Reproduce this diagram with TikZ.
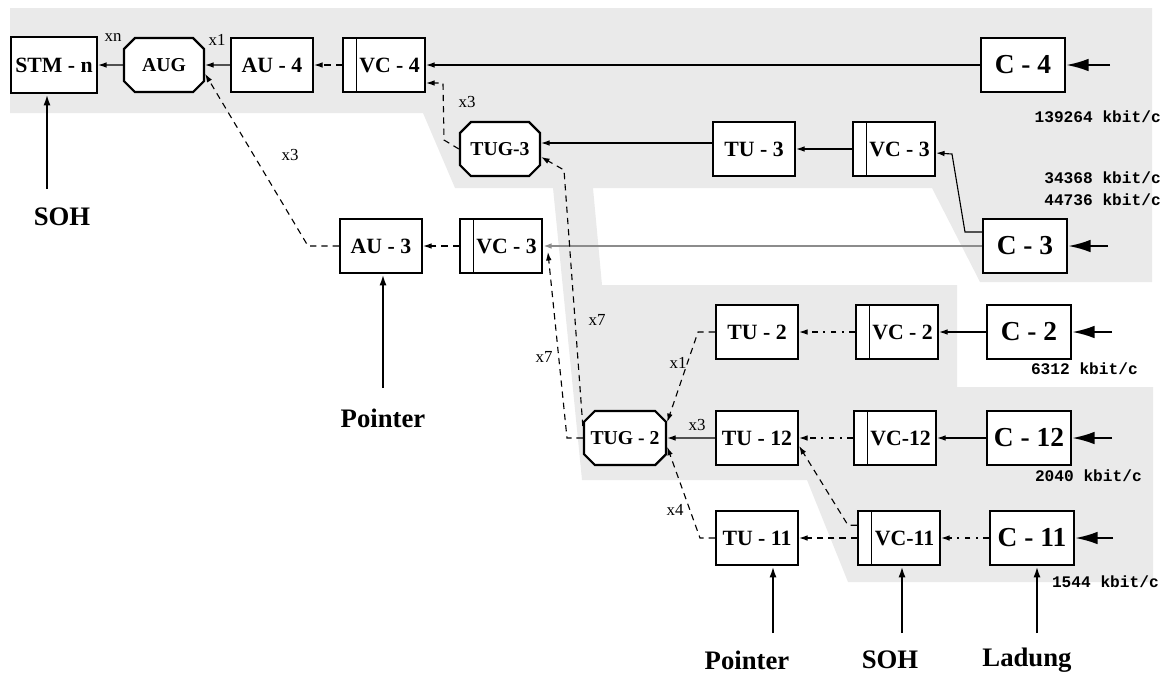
\documentclass[tikz,border=0pt]{standalone}
\usepackage{fontspec}
\setmainfont{Liberation Serif}
\newfontfamily\ratefont{Liberation Mono}
\usepackage{xcolor}
\usetikzlibrary{arrows.meta, positioning, shapes.misc}

\definecolor{bandgrey}{HTML}{EAEAEA}
\definecolor{linegrey}{HTML}{8C8C8C}

\tikzset{
  blk/.style={draw, line width=1.6pt, fill=white, minimum width=2.05cm,
    minimum height=1.35cm, inner sep=0pt, font=\fontsize{15.5}{18}\selectfont\bfseries},
  cbox/.style={blk, minimum width=2.1cm, font=\fontsize{19.5}{22}\selectfont\bfseries},
  vcbox/.style={blk, execute at begin node=\hspace*{0.28cm},
    path picture={\draw[line width=0.8pt]
      ([xshift=0.33cm]path picture bounding box.north west) --
      ([xshift=0.33cm]path picture bounding box.south west);}},
  tug/.style={blk, chamfered rectangle, chamfered rectangle xsep=0.3cm,
    minimum width=2cm, font=\fontsize{14}{17}\selectfont\bfseries},
  dsh/.style={dash pattern=on 4.5pt off 3.5pt},
  ddot/.style={dash pattern=on 4pt off 4pt on 1.2pt off 4pt},
  feed/.style={line width=1.6pt, -{Latex[length=16pt,width=9pt]}},
  riser/.style={line width=1.6pt, -{Latex[length=8pt,width=5pt]}},
  mult/.style={font=\fontsize{12}{14}\selectfont},
  rate/.style={anchor=east, font=\ratefont\fontsize{11.5}{13}\selectfont\bfseries},
  big/.style={font=\fontsize{19}{22}\selectfont\bfseries}
}

\begin{document}
\begin{tikzpicture}[node distance=2cm, on grid, line width=0.8pt,
    >={Latex[length=6pt,width=4pt]}]
  \useasboundingbox (0,0) rectangle (29.175,-16.875);

  % grey band
  \fill[bandgrey] (0.25,-0.2) -- (28.8,-0.2) -- (28.8,-7.05) -- (24.5,-7.05)
    -- (23.3,-4.7) -- (14.825,-4.7) -- (15.05,-7.125) -- (23.925,-7.125)
    -- (23.925,-9.675) -- (28.825,-9.675) -- (28.825,-14.55) -- (21.2,-14.55)
    -- (20.175,-12.0) -- (14.55,-12.0) -- (13.825,-4.7) -- (11.375,-4.7)
    -- (10.575,-2.825) -- (0.25,-2.825) -- cycle;

  % top row
  \node[blk, minimum width=2.15cm, minimum height=1.4cm] (stm) at (1.35,-1.625) {STM - n};
  \node[tug] (aug) [right=2.75of stm] {AUG};
  \node[blk] (au4) [right=2.7of aug] {AU - 4};
  \node[vcbox] (vc4) [right=2.8of au4] {VC - 4};
  \node[cbox] (c4) at (25.575,-1.625) {C - 4};

  \node[tug] (tug3) at (12.5,-3.725) {TUG-3};
  \node[blk] (tu3) [right=6.35of tug3] {TU - 3};
  \node[vcbox] (vc3a) [right=3.5of tu3] {VC - 3};

  \node[blk] (au3) at (9.525,-6.15) {AU - 3};
  \node[vcbox] (vc3b) [right=3of au3] {VC - 3};
  \node[cbox] (c3) at (25.625,-6.15) {C - 3};

  % lower block
  \node[tug] (tug2) at (15.625,-10.95) {TUG - 2};
  \node[blk] (tu12) [right=3.3of tug2] {TU - 12};
  \node[vcbox] (vc12) [right=3.45of tu12] {VC-12};
  \node[cbox] (c12) [right=3.35of vc12] {C - 12};
  \node[blk] (tu2) [above=2.65of tu12] {TU - 2};
  \node[vcbox] (vc2) [right=3.5of tu2] {VC - 2};
  \node[cbox] (c2) [right=3.3of vc2] {C - 2};
  \node[blk] (tu11) [below=2.5of tu12] {TU - 11};
  \node[vcbox] (vc11) [right=3.55of tu11] {VC-11};
  \node[cbox] (c11) [right=3.325of vc11] {C - 11};

  % rates
  \node[rate] (r4) at (29.15,-2.925) {139264 kbit/c};
  \node[rate] (r3a) at (29.15,-4.45) {34368 kbit/c};
  \node[rate] (r3b) at (29.15,-5.0) {44736 kbit/c};
  \node[rate] (r2) at (28.575,-9.225) {6312 kbit/c};
  \node[rate] (r12) at (28.675,-11.9) {2040 kbit/c};
  \node[rate] (r11) at (29.1,-14.55) {1544 kbit/c};

  % multiplex counts
  \node[mult] (mn) at (2.825,-0.95) {xn};
  \node[mult] (m1) at (5.425,-1.0) {x1};
  \node[mult] (m3a) at (11.675,-2.55) {x3};
  \node[mult] (m3b) at (7.25,-3.875) {x3};
  \node[mult] (m7a) at (14.925,-8.0) {x7};
  \node[mult] (m7b) at (13.6,-8.925) {x7};
  \node[mult] (m1b) at (16.95,-9.075) {x1};
  \node[mult] (m3c) at (17.425,-10.625) {x3};
  \node[mult] (m4) at (16.875,-12.75) {x4};

  % bottom labels
  \node[big] (soh1) at (1.55,-5.425) {SOH};
  \node[big] (ptr1) at (9.575,-10.45) {Pointer};
  \node[big] (ptr2) at (18.675,-16.5) {Pointer};
  \node[big] (soh2) at (22.25,-16.5) {SOH};
  \node[big] (load) at (25.675,-16.5) {Ladung};

  \coordinate (s1) at (1.175,-4.725);
  \coordinate (p1) at (9.575,-9.7);
  \coordinate (p2) at (19.325,-15.825);
  \coordinate (s2) at (22.55,-15.825);
  \coordinate (l1) at (25.925,-15.825);

  \path[->]
    (aug) edge (stm)
    (au4) edge (aug)
    (vc4) edge[dsh] (au4)
    (c4) edge (vc4)
    (vc3a) edge (tu3)
    ([yshift=0.15cm]tu3.west) edge ([yshift=0.15cm]tug3.east)
    (vc3b) edge[dsh] (au3)
    (c3) edge[linegrey, line width=1.5pt] (vc3b)
    (c2) edge (vc2)
    (vc2) edge[ddot] (tu2)
    (c12) edge (vc12)
    (vc12) edge[ddot] (tu12)
    (tu12) edge (tug2)
    (c11) edge[ddot] (vc11)
    (vc11) edge[dsh] (tu11);

  \draw[->, dsh] (tug3.west) -- (11.1,-3.5) -- (11.075,-2.075) -- ([yshift=-0.45cm]vc4.east);
  \draw[->, dsh] (au3.west) -- (7.7,-6.15) -- ([yshift=-0.22cm]aug.east);
  \draw[->] ([yshift=0.35cm]c3.west) -- (24.125,-5.8) -- (23.8,-3.85) -- ([yshift=-0.1cm]vc3a.east);
  \draw[->, dsh] (tug2.west) -- (14.175,-10.95) -- ([xshift=0.12cm,yshift=-0.15cm]vc3b.east);
  \draw[->, dsh] ([yshift=0.3cm]tug2.west) -- (14.1,-4.25) -- ([yshift=-0.2cm]tug3.east);
  \draw[->, dsh] (tu2.west) -- (17.45,-8.3) -- ([yshift=0.4cm]tug2.east);
  \draw[->, dsh] (tu11.west) -- (17.5,-13.45) -- ([yshift=-0.22cm]tug2.east);
  \draw[->, dsh] ([yshift=0.32cm]vc11.west) -- (21.2,-13.13) -- ([yshift=-0.2cm]tu12.east);

  \path[feed]
    ([xshift=1.1cm]c4.east) edge (c4)
    ([xshift=1.0cm]c3.east) edge (c3)
    ([xshift=1.0cm]c2.east) edge (c2)
    ([xshift=1.0cm]c12.east) edge (c12)
    ([xshift=0.95cm]c11.east) edge (c11);

  \path[riser]
    (s1) edge (s1 |- stm.south)
    (p1) edge (p1 |- au3.south)
    (p2) edge (p2 |- tu11.south)
    (s2) edge (s2 |- vc11.south)
    (l1) edge (l1 |- c11.south);
\end{tikzpicture}
\end{document}
